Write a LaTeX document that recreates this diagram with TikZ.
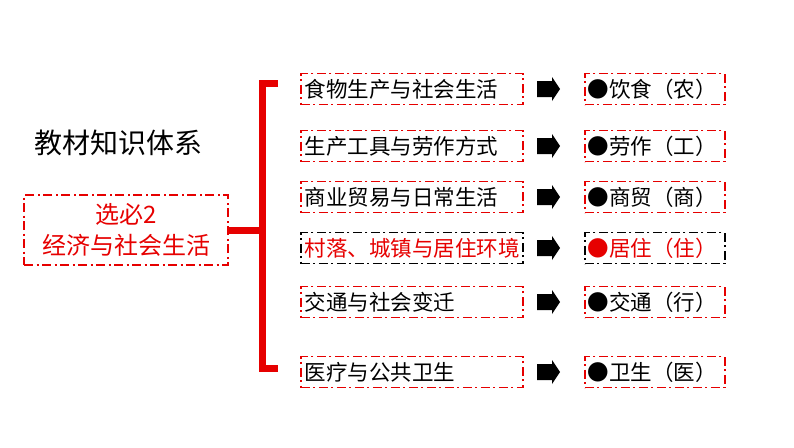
\documentclass[tikz,border=0pt]{standalone}
\usepackage{fontspec}
\newfontfamily\cjk{Noto Sans CJK SC}
\definecolor{myred}{RGB}{230,0,0}
\begin{document}
\begin{tikzpicture}[x=1pt,y=-1pt,
 lbox/.style={draw=myred,line width=1.5pt,dash pattern=on 9pt off 3.5pt on 2pt off 3.5pt,minimum width=222,minimum height=31,anchor=west,inner sep=3pt,font=\cjk\fontsize{21.5}{23}\selectfont,text width=214,align=left},
 rbox/.style={lbox,minimum width=140,text width=134},
 arrowshape/.style={fill=black}]
\useasboundingbox (0,0) rectangle (794,447);
\node[font=\cjk\fontsize{28}{30}\selectfont] (title) at (118,143) {教材知识体系};
\node[draw=myred,line width=1.5pt,dash pattern=on 9pt off 3.5pt on 2pt off 3.5pt,minimum width=204,minimum height=70,text=myred,font=\cjk\fontsize{24}{31}\selectfont,align=center] (root) at (126,230) {选必2\\经济与社会生活};
\draw[myred,line width=7pt] (root.east) -- (262,230);
\draw[myred,line width=7pt] (278,83) -- (262,83) -- (262,368) -- (278,368);
\foreach \y/\a/\b/\n in {89/食物生产与社会生活/饮食（农）/1,146/生产工具与劳作方式/劳作（工）/2,197/商业贸易与日常生活/商贸（商）/3,302/交通与社会变迁/交通（行）/5,372/医疗与公共卫生/卫生（医）/6}{
 \node[lbox] (l\n) at (300,\y) {\a};
 \node[rbox] (r\n) at (584,\y) {●\b};
 \coordinate (a\n) at (537,\y);
 \fill (a\n) ++(0,-8) -- ++(15,0) -- ++(0,-4) -- ++(8,12) -- ++(-8,12) -- ++(0,-4) -- ++(-15,0) -- cycle;
}
\node[lbox,draw=black,text=myred] (l4) at (300,248) {村落、城镇与居住环境};
\node[rbox,draw=black] (r4) at (584,248) {\textcolor{myred}{●居住（住）}};
\coordinate (a4) at (537,248);
\fill (a4) ++(0,-8) -- ++(15,0) -- ++(0,-4) -- ++(8,12) -- ++(-8,12) -- ++(0,-4) -- ++(-15,0) -- cycle;
\end{tikzpicture}
\end{document}
